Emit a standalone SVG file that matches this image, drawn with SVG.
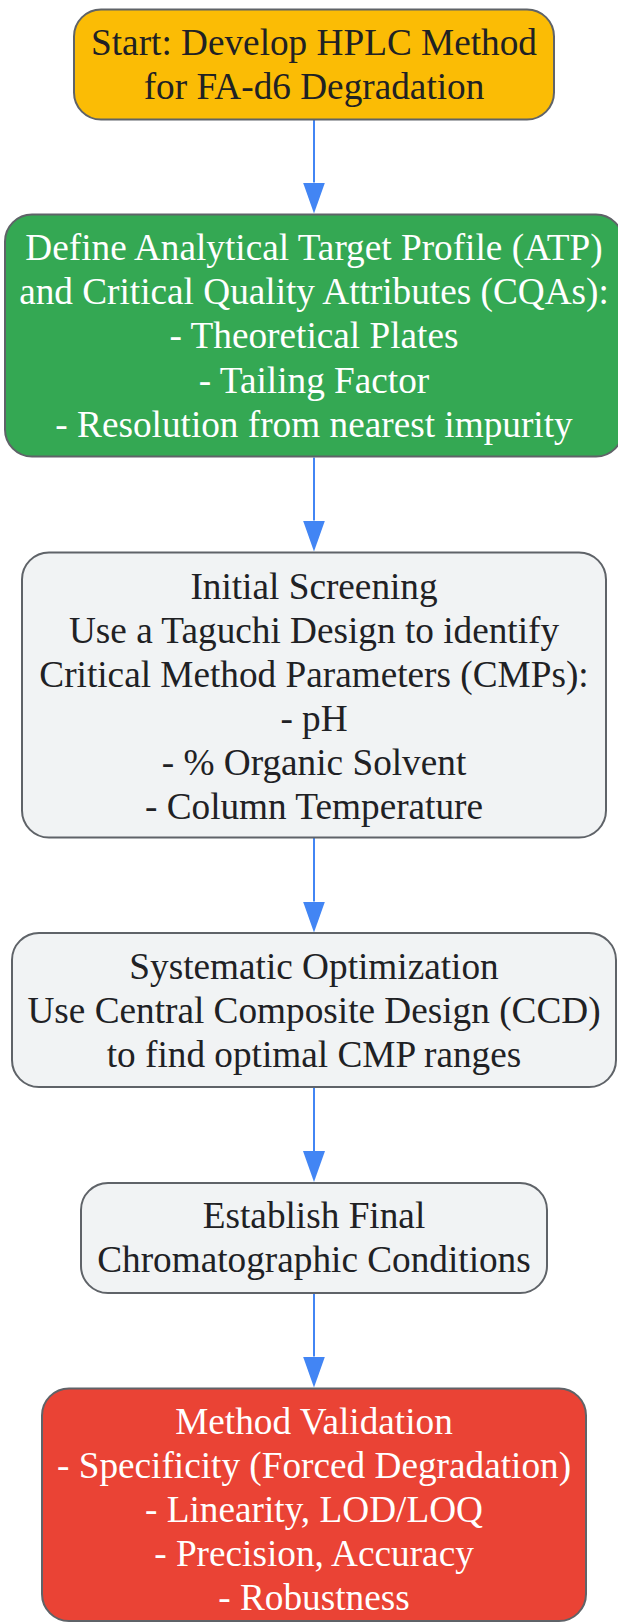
<svg xmlns="http://www.w3.org/2000/svg" width="618" height="1622" viewBox="0 0 618 1622">
<defs>
<marker id="ah" markerUnits="userSpaceOnUse" markerWidth="31" markerHeight="22" refX="0" refY="11" orient="auto" viewBox="0 0 31 22"><path d="M0,0 L31,11 L0,22 z" fill="#4285F4"/></marker>
<style>
.box{stroke:#5F6368;stroke-width:2}
.t{font-family:"Liberation Serif","Times New Roman",serif;font-size:37.25px;text-anchor:middle}
.dark{fill:#202124}
.light{fill:#FFFFFF}
.edge{stroke:#4285F4;stroke-width:2;fill:none;marker-end:url(#ah)}
</style>
</defs>
<rect width="618" height="1622" fill="#FFFFFF"/>
<g id="connectors">
<line class="edge" x1="314" y1="120" x2="314" y2="182.5"/>
<line class="edge" x1="314" y1="457.5" x2="314" y2="520.5"/>
<line class="edge" x1="314" y1="838" x2="314" y2="901.5"/>
<line class="edge" x1="314" y1="1088" x2="314" y2="1151"/>
<line class="edge" x1="314" y1="1294" x2="314" y2="1356.5"/>
</g>
<g id="start">
<rect class="box" x="74" y="9.5" width="480" height="110" rx="27" fill="#FBBC05"/>
<text class="t dark" x="314" y="55">Start: Develop HPLC Method</text>
<text class="t dark" x="314" y="99.3">for FA-d6 Degradation</text>
</g>
<g id="define">
<rect class="box" x="5" y="214.5" width="618" height="242" rx="27" fill="#34A853"/>
<text class="t light" x="314" y="260">Define Analytical Target Profile (ATP)</text>
<text class="t light" x="314" y="304.2">and Critical Quality Attributes (CQAs):</text>
<text class="t light" x="314" y="348.4">- Theoretical Plates</text>
<text class="t light" x="314" y="392.6">- Tailing Factor</text>
<text class="t light" x="314" y="436.8">- Resolution from nearest impurity</text>
</g>
<g id="screening">
<rect class="box" x="22" y="552.5" width="584" height="285" rx="27" fill="#F1F3F4"/>
<text class="t dark" x="314" y="598.5">Initial Screening</text>
<text class="t dark" x="314" y="642.5">Use a Taguchi Design to identify</text>
<text class="t dark" x="314" y="686.5">Critical Method Parameters (CMPs):</text>
<text class="t dark" x="314" y="730.5">- pH</text>
<text class="t dark" x="314" y="774.5">- % Organic Solvent</text>
<text class="t dark" x="314" y="818.5">- Column Temperature</text>
</g>
<g id="optimization">
<rect class="box" x="12" y="933" width="604" height="154" rx="27" fill="#F1F3F4"/>
<text class="t dark" x="314" y="978.5">Systematic Optimization</text>
<text class="t dark" x="314" y="1022.5">Use Central Composite Design (CCD)</text>
<text class="t dark" x="314" y="1066.5">to find optimal CMP ranges</text>
</g>
<g id="final">
<rect class="box" x="81" y="1183" width="466" height="110" rx="27" fill="#F1F3F4"/>
<text class="t dark" x="314" y="1228.3">Establish Final</text>
<text class="t dark" x="314" y="1271.7">Chromatographic Conditions</text>
</g>
<g id="validation">
<rect class="box" x="42" y="1388.5" width="544" height="232.5" rx="27" fill="#EA4335"/>
<text class="t light" x="314" y="1434">Method Validation</text>
<text class="t light" x="314" y="1478">- Specificity (Forced Degradation)</text>
<text class="t light" x="314" y="1522">- Linearity, LOD/LOQ</text>
<text class="t light" x="314" y="1566">- Precision, Accuracy</text>
<text class="t light" x="314" y="1610">- Robustness</text>
</g>
</svg>
